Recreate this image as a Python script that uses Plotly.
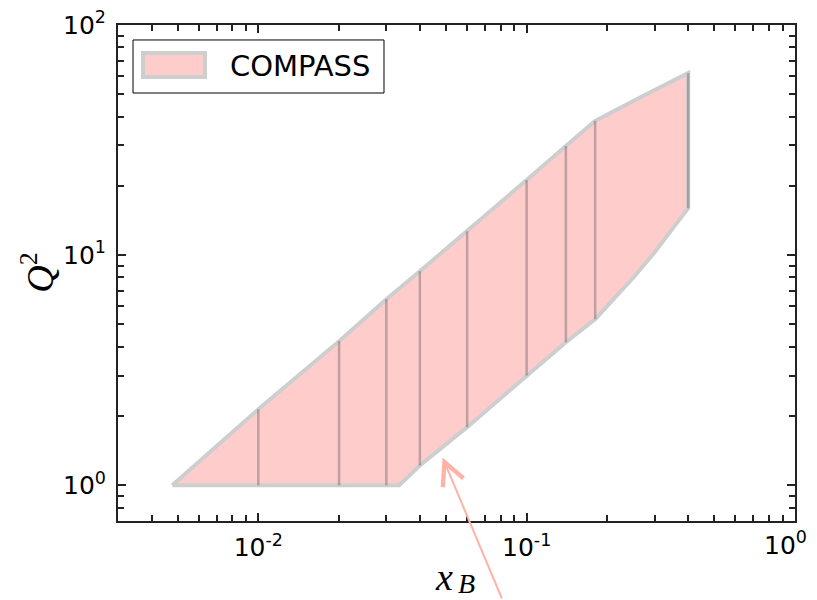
import plotly.graph_objects as go
import math

# ---- data ----
# upper boundary of COMPASS coverage (x_B, Q^2)
upper_x = [0.00478, 0.01, 0.02, 0.03, 0.04, 0.06, 0.10, 0.14, 0.18, 0.27, 0.40]
upper_q2 = [1.0, 2.14, 4.23, 6.44, 8.52, 12.7, 21.2, 29.8, 38.3, 49.0, 61.8]
# lower boundary (x_B, Q^2)
lower_x = [0.00478, 0.0335, 0.04, 0.06, 0.10, 0.14, 0.18, 0.25, 0.30, 0.40]
lower_q2 = [1.0, 1.0, 1.22, 1.79, 3.0, 4.19, 5.27, 8.0, 10.3, 16.0]
# bin edges drawn as vertical lines
bin_x = [0.01, 0.02, 0.03, 0.04, 0.06, 0.10, 0.14, 0.18, 0.40]
bin_q2_low = [1.0, 1.0, 1.0, 1.22, 1.79, 3.0, 4.19, 5.27, 16.0]
bin_q2_high = [2.14, 4.23, 6.44, 8.52, 12.7, 21.2, 29.8, 38.3, 61.8]

x_ticks = [0.01, 0.1, 1.0]
x_ticktext = ["10<sup>-2</sup>", "10<sup>-1</sup>", ""]
x_last_label = "10<sup>0</sup>"
y_ticks = [1.0, 10.0, 100.0]
y_ticktext = ["10<sup>0</sup>", "10<sup>1</sup>", "10<sup>2</sup>"]

series_name = "COMPASS"
arrow_x = 0.0486
arrow_q2 = 1.32

# ---- figure ----
poly_x = upper_x + lower_x[::-1]
poly_y = upper_q2 + lower_q2[::-1]

fig = go.Figure()
fig.add_trace(go.Scatter(
    x=poly_x, y=poly_y, mode="lines", fill="toself",
    fillcolor="rgb(255,204,204)",
    line=dict(color="rgb(206,206,206)", width=4),
    showlegend=False, hoverinfo="skip",
))

vx, vy = [], []
for xv, lo, hi in zip(bin_x, bin_q2_low, bin_q2_high):
    vx += [xv, xv, None]
    vy += [lo, hi, None]
fig.add_trace(go.Scatter(
    x=vx, y=vy, mode="lines",
    line=dict(color="rgba(80,80,80,0.36)", width=2.5),
    showlegend=False, hoverinfo="skip",
))

def minor_vals(lo_exp, hi_exp):
    out = []
    for e in range(lo_exp, hi_exp):
        for d in range(2, 10):
            out.append(d * 10.0 ** e)
    return out

tick_font = dict(family="DejaVu Sans", size=25, color="black")
axis_common = dict(
    type="log", showgrid=False, zeroline=False, automargin=False,
    showline=True, linecolor="#222", linewidth=2, mirror="ticks",
    ticks="inside", ticklen=8, tickwidth=2, tickcolor="#222",
    tickfont=tick_font, tickmode="array", ticklabeloverflow="allow",
)

fig.update_xaxes(
    **axis_common,
    range=[math.log10(0.003), 0.0001],
    tickvals=x_ticks, ticktext=x_ticktext,
    minor=dict(ticks="inside", ticklen=6, tickwidth=2, tickcolor="#222",
               tickmode="array", tickvals=minor_vals(-3, 0), showgrid=False),
    ticklabelstandoff=3,
)
fig.update_yaxes(
    **axis_common,
    range=[math.log10(0.7), 2.0001],
    tickvals=y_ticks, ticktext=y_ticktext,
    minor=dict(ticks="inside", ticklen=6, tickwidth=2, tickcolor="#222",
               tickmode="array", tickvals=minor_vals(-1, 2), showgrid=False),
    ticklabelstandoff=5,
)

shapes = [
    dict(type="rect", xref="paper", yref="paper",
         x0=0.0222, x1=0.3929, y0=0.8629, y1=0.9698,
         line=dict(color="black", width=1), fillcolor="white", layer="above"),
    dict(type="rect", xref="paper", yref="paper",
         x0=0.0369, x1=0.1285, y0=0.8952, y1=0.9435,
         line=dict(color="rgb(206,206,206)", width=4),
         fillcolor="rgb(255,204,204)", layer="above"),
]

annotations = [
    dict(xref="paper", yref="paper", x=1.0, y=0.0, xanchor="center",
         yanchor="top", xshift=-10, yshift=-4, text=x_last_label,
         showarrow=False, font=tick_font),
    dict(xref="paper", yref="paper", x=0.1625, y=0.9175, xanchor="left",
         yanchor="middle", text=series_name, showarrow=False,
         font=dict(family="DejaVu Sans", size=29, color="black")),
    dict(xref="paper", yref="paper", x=0.4808, y=-0.112, xanchor="center",
         yanchor="middle", text="<i>x</i>", showarrow=False,
         font=dict(family="Liberation Serif", size=38, color="black")),
    dict(xref="paper", yref="paper", x=0.5148, y=-0.125, xanchor="center",
         yanchor="middle", text="<i>B</i>", showarrow=False,
         font=dict(family="Liberation Serif", size=28, color="black")),
    dict(xref="paper", yref="paper", x=-0.12, y=0.5, xanchor="center",
         yanchor="middle", text="<i>Q</i><sup><span style='font-size:26px'>2</span></sup>",
         showarrow=False, textangle=-90,
         font=dict(family="Liberation Serif", size=38, color="black")),
    dict(xref="x", yref="y", x=math.log10(arrow_x), y=math.log10(arrow_q2),
         text="", showarrow=True, arrowhead=5, arrowsize=2.2, arrowwidth=2,
         arrowcolor="rgb(255,178,168)", ax=60, ay=150, standoff=0),
]

# the page body adds an 8px offset, so the figure is 8px smaller each way
fig.update_layout(
    width=809, height=592,
    margin=dict(l=110, r=22, t=17, b=79, autoexpand=False),
    paper_bgcolor="white", plot_bgcolor="white",
    shapes=shapes, annotations=annotations,
    showlegend=False,
)

fig.write_html("out.html")
